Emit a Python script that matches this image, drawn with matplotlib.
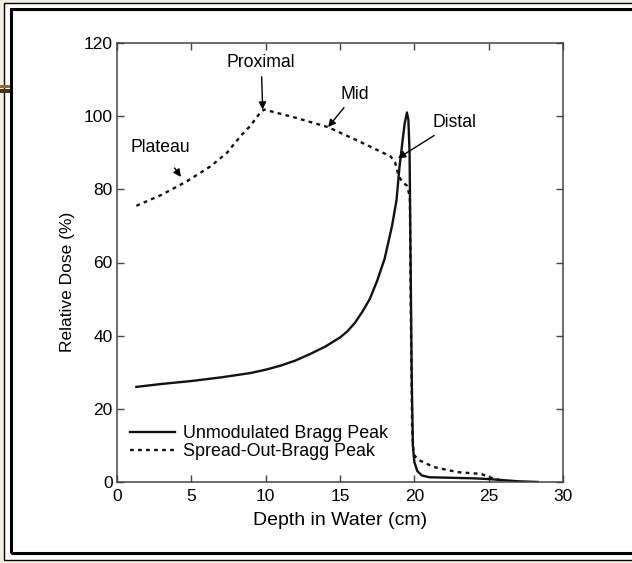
import matplotlib
matplotlib.use("Agg")
import matplotlib.pyplot as plt
from matplotlib.patches import Rectangle

plt.rcParams["font.family"] = ["Liberation Sans", "DejaVu Sans"]

# unmodulated (pristine) Bragg peak
depth_bp = [1.3, 3, 5, 7, 9, 10, 11, 12, 13, 14, 15, 15.5, 16, 16.5, 17, 17.5,
            18, 18.5, 18.8, 19.0, 19.2, 19.35, 19.5, 19.6, 19.68, 19.75, 19.82,
            19.9, 20.0, 20.2, 20.5, 21.0, 22, 24, 25, 26, 27, 28.3]
dose_bp = [26, 26.8, 27.6, 28.6, 29.8, 30.7, 31.8, 33.2, 35, 37, 39.5, 41.2,
           43.5, 46.5, 50, 55, 61, 70, 77, 86, 93, 98, 101, 99, 90, 60, 30,
           10, 5.5, 3, 1.8, 1.3, 1.2, 1.0, 0.8, 0.5, 0.2, 0]

# spread-out Bragg peak
depth_sobp = [1.3, 3, 4.7, 6.3, 7.4, 8.3, 9.0, 9.6, 9.9, 11.9, 14.2, 16.4,
              18.4, 18.7, 18.95, 19.2, 19.5, 19.7, 19.78, 19.85, 19.95, 20.3,
              21.3, 22.9, 24.5, 25.2, 26.0]
dose_sobp = [75.5, 78.5, 82.2, 86.3, 90, 94.5, 97.5, 100.8, 101.8, 99.7, 97,
             92.9, 89, 87.4, 83.6, 82, 81, 78, 40, 15, 7.5, 6, 4.1, 2.7, 2.2,
             1.1, 0.3]

x_ticks = [0, 5, 10, 15, 20, 25, 30]
y_ticks = [0, 20, 40, 60, 80, 100, 120]

W, H = 632, 563
fig = plt.figure(figsize=(W / 100, H / 100), dpi=100, facecolor="#f2eee1")


def px_rect(x0, y0, x1, y1, **kw):
    # rectangle given in pixel coords measured from the top-left corner
    return Rectangle((x0 / W, 1 - y1 / H), (x1 - x0) / W, (y1 - y0) / H,
                     transform=fig.transFigure, zorder=-10, **kw)


# double frame round the figure
fig.patches.append(px_rect(4, 3, 700, 560, facecolor="white", edgecolor="black", lw=1.0))
fig.patches.append(px_rect(11, 9, 700, 553, facecolor="none", edgecolor="black", lw=2.2))
fig.patches.append(px_rect(0, 85, 10, 87.5, facecolor="#8a6a3a", edgecolor="none"))
fig.patches.append(px_rect(0, 89, 10, 93, facecolor="#4a3214", edgecolor="none"))

ax = fig.add_axes([117 / W, 1 - 482 / H, (563 - 117) / W, (482 - 43) / H])
ax.set_facecolor("none")

ax.plot(depth_bp, dose_bp, color="#111111", lw=1.7, label="Unmodulated Bragg Peak")
ax.plot(depth_sobp, dose_sobp, color="#111111", lw=1.7, dashes=(1.6, 1.8),
        label="Spread-Out-Bragg Peak")

ax.set_xlim(0, 30)
ax.set_ylim(0, 120)
ax.set_xticks(x_ticks)
ax.set_yticks(y_ticks)
ax.tick_params(direction="in", length=5, width=1, color="#444444",
               labelsize=12.5, top=True, right=True, pad=3)
ax.tick_params(axis="x", pad=5)
for s in ax.spines.values():
    s.set_color("#444444")
    s.set_linewidth(1.1)

ax.set_xlabel("Depth in Water (cm)", fontsize=14, labelpad=6)
ax.set_ylabel("Relative Dose (%)", fontsize=12.5)
ax.yaxis.set_label_coords(-0.094, 0.455)

arrow = dict(arrowstyle="-|>", color="black", lw=1.0, mutation_scale=11,
             shrinkA=2, shrinkB=0)
txt = dict(fontsize=12.7, ha="center", va="center")
ax.annotate("Proximal", xy=(9.8, 101.8), xytext=(9.7, 114.6), arrowprops=arrow, **txt)
ax.annotate("Mid", xy=(14.2, 97), xytext=(16.0, 106), arrowprops=arrow, **txt)
ax.annotate("Distal", xy=(18.9, 88.5), xytext=(22.7, 98.2), arrowprops=arrow, **txt)
ax.annotate("Plateau", xy=(4.3, 83.4), xytext=(2.9, 91.4),
            arrowprops=dict(arrow, shrinkA=8), **txt)

ax.legend(loc="center left", bbox_to_anchor=(0.03, 0.09), frameon=False,
          fontsize=12.9, handlelength=2.5, handletextpad=0.45, labelspacing=0.05,
          borderpad=0, borderaxespad=0)

fig.savefig("out.png", dpi=100, facecolor=fig.get_facecolor())
